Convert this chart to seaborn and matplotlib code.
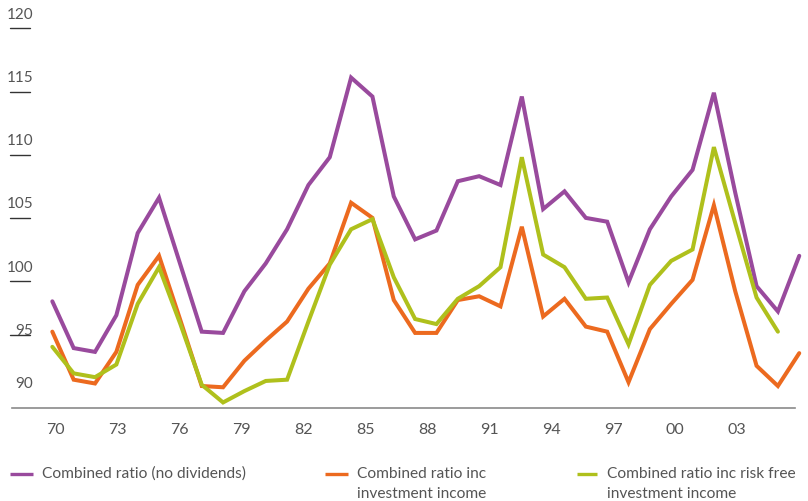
import matplotlib
matplotlib.use("Agg")
import matplotlib.pyplot as plt
import matplotlib.transforms as mtransforms
from matplotlib.lines import Line2D
import numpy as np
import pandas as pd
import seaborn as sns

# ---- data -------------------------------------------------------------
years = list(range(1970, 2006))

combined_no_div = [
    98.4, 94.7, 94.4, 97.3, 103.8, 106.6, 101.3, 96.0, 95.9, 99.2,
    101.4, 104.1, 107.6, 109.8, 116.1, 114.6, 106.7, 103.3, 104.0, 107.9,
    108.3, 107.6, 114.6, 105.7, 107.1, 105.0, 104.7, 99.9, 104.1, 106.7,
    108.8, 114.9, 107.0, 99.6, 97.6, 102.0,
]
combined_inc_inv = [
    96.0, 92.2, 91.9, 94.4, 99.7, 102.0, 96.9, 91.7, 91.6, 93.7,
    95.3, 96.8, 99.4, 101.4, 106.2, 105.0, 98.5, 95.9, 95.9, 98.5,
    98.8, 98.0, 104.3, 97.2, 98.6, 96.4, 96.0, 92.0, 96.2, 98.2,
    100.1, 106.0, 99.2, 93.3, 91.7, 94.3,
]
combined_inc_riskfree = [
    94.8, 92.7, 92.4, 93.4, 98.2, 101.1, 96.6, 91.8, 90.4, 91.3,
    92.1, 92.2, 96.8, 101.3, 104.1, 104.9, 100.3, 97.0, 96.6, 98.6,
    99.6, 101.1, 109.8, 102.1, 101.1, 98.6, 98.7, 95.0, 99.7, 101.6,
    102.5, 110.6, 104.6, 98.7, 96.0, None,
]

series_names = [
    "Combined ratio (no dividends)",
    "Combined ratio inc investment income",
    "Combined ratio inc risk free investment income",
]
legend_lines = [
    ["Combined ratio (no dividends)"],
    ["Combined ratio inc", "investment income"],
    ["Combined ratio inc risk free", "investment income"],
]
series_colors = ["#994a9d", "#ec6a1f", "#afc01c"]

ytick_values = [90, 95, 100, 105, 110, 115, 120]
xtick_labels = ["70", "73", "76", "79", "82", "85", "88", "91", "94", "97", "00", "03"]

# ---- long-form table ---------------------------------------------------
frames = []
for name, vals in zip(series_names, [combined_no_div, combined_inc_inv, combined_inc_riskfree]):
    frames.append(pd.DataFrame({"year": years, "ratio": vals, "series": name}))
df = pd.concat(frames, ignore_index=True).dropna()

# ---- figure ------------------------------------------------------------
sns.set_theme(style="white")
plt.rcParams["font.family"] = ["Lato", "DejaVu Sans"]

W, H = 808, 501
fig = plt.figure(figsize=(W / 100, H / 100), dpi=100)
ax = fig.add_axes([12 / W, (H - 407.5) / H, 796 / W, 397.5 / H])

sns.lineplot(
    data=df, x="year", y="ratio", hue="series",
    hue_order=series_names, palette=series_colors,
    linewidth=2.9, legend=False, ax=ax,
    solid_joinstyle="miter",
)

ax.set_xlim(1968.11, 2005.41)
ax.set_ylim(90, 90 + 397.5 / 12.64)

for side in ["top", "left", "right"]:
    ax.spines[side].set_visible(False)
ax.spines["bottom"].set_color("#8a8a8a")
ax.spines["bottom"].set_linewidth(1.2)
ax.spines["bottom"].set_bounds(1968.11, 2004.8)

ax.set_xlabel("")
ax.set_ylabel("")

label_color = "#555555"
text_size = 11.2

# x labels every three years
xtick_pos = [1970.13 + 2.905 * k for k in range(len(xtick_labels))]
ax.set_xticks(xtick_pos)
ax.set_xticklabels(xtick_labels)
ax.tick_params(axis="x", length=0, pad=11.5, labelsize=11.5, labelcolor=label_color)
ax.set_yticks([])

# y labels sit above short rule marks at the left edge
trans = mtransforms.blended_transform_factory(fig.transFigure, ax.transData)
for v in ytick_values:
    if v == 90:
        label_y, rule_y = 91.86, None
    elif v == 95:
        label_y, rule_y = 96.09, 95.7
    else:
        label_y, rule_y = v + 1.07, v
    ax.text(33.5 / W, label_y, str(v), transform=trans, ha="right", va="center",
            fontsize=11, color=label_color, clip_on=False)
    if rule_y is not None:
        ax.add_line(Line2D([10 / W, 30 / W], [rule_y, rule_y], transform=trans,
                           color="#333333", lw=1.0, clip_on=False))

# legend along the bottom
handle_x = [(10, 32.5), (325, 347.5), (576.5, 597)]
text_x = [41.7, 356.7, 607.3]
line_centres = [473.5, 494]
for (x0, x1), tx, lines, col in zip(handle_x, text_x, legend_lines, series_colors):
    fig.add_artist(Line2D([x0 / W, x1 / W], [(H - 473.5) / H] * 2, color=col, lw=2.4,
                          solid_capstyle="butt"))
    for yc, line in zip(line_centres, lines):
        fig.text(tx / W, (H - yc) / H, line, ha="left", va="center",
                 fontsize=text_size, color=label_color)

fig.savefig("out.png", dpi=100)
